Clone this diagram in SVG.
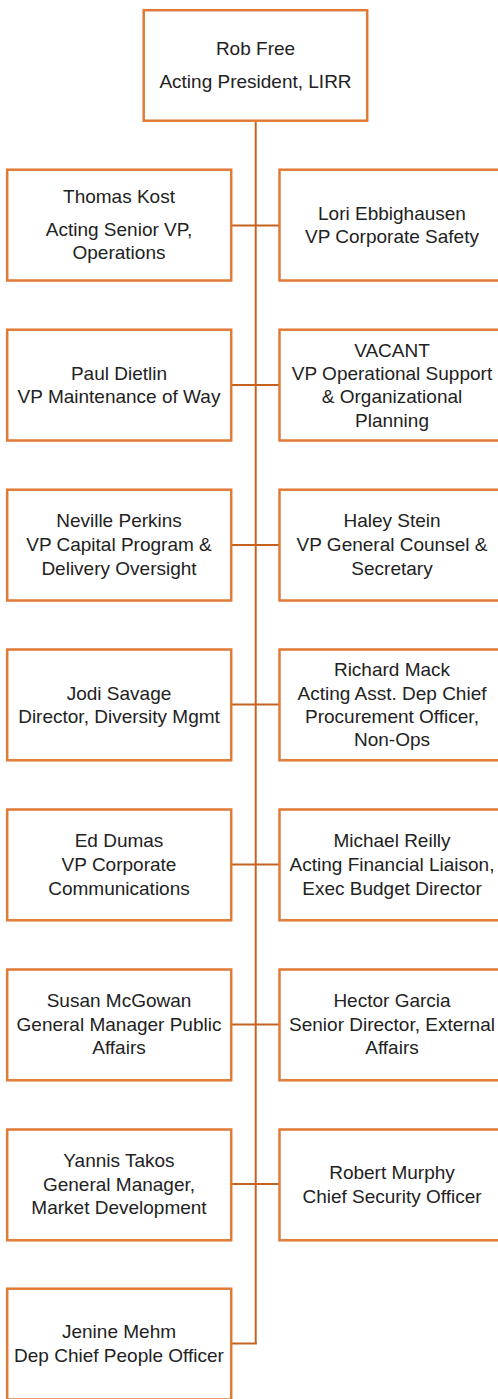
<svg xmlns="http://www.w3.org/2000/svg" width="498" height="1399" viewBox="0 0 498 1399">
<style>
.box{fill:#fff;stroke:#E07A36;stroke-width:2.5}
.con{stroke:#C4621F;stroke-width:2;fill:none}
text{font-family:"Liberation Sans",Arial,sans-serif;font-size:19px;fill:#222;text-anchor:middle}
</style>
<rect width="498" height="1399" fill="#fff"/>
<g id="connectors">
<line class="con" x1="255.7" y1="122" x2="255.7" y2="1344"/>
<line class="con" x1="232" y1="225.5" x2="279" y2="225.5"/>
<line class="con" x1="232" y1="385" x2="279" y2="385"/>
<line class="con" x1="232" y1="545" x2="279" y2="545"/>
<line class="con" x1="232" y1="704.5" x2="279" y2="704.5"/>
<line class="con" x1="232" y1="864.5" x2="279" y2="864.5"/>
<line class="con" x1="232" y1="1024.5" x2="279" y2="1024.5"/>
<line class="con" x1="232" y1="1184" x2="279" y2="1184"/>
<line class="con" x1="232" y1="1343.5" x2="256.7" y2="1343.5"/>
</g>
<g id="n-rob">
<rect class="box" x="143.7" y="10.2" width="223.5" height="110.5"/>
<text x="255.5" y="55">Rob Free</text>
<text x="255.5" y="88">Acting President, LIRR</text>
</g>
<g id="n-kost">
<rect class="box" x="7.2" y="169.7" width="224" height="110.8"/>
<text x="119" y="203">Thomas Kost</text>
<text x="119" y="236">Acting Senior VP,</text>
<text x="119" y="259">Operations</text>
</g>
<g id="n-ebbighausen">
<rect class="box" x="279.5" y="169.7" width="224" height="110.8"/>
<text x="392" y="220">Lori Ebbighausen</text>
<text x="392" y="243">VP Corporate Safety</text>
</g>
<g id="n-dietlin">
<rect class="box" x="7.2" y="329.7" width="224" height="110.8"/>
<text x="119" y="379.5">Paul Dietlin</text>
<text x="119" y="403.3">VP Maintenance of Way</text>
</g>
<g id="n-vacant">
<rect class="box" x="279.5" y="329.7" width="224" height="110.8"/>
<text x="392" y="356.7">VACANT</text>
<text x="392" y="380">VP Operational Support</text>
<text x="392" y="403.3">&amp; Organizational</text>
<text x="392" y="426.5">Planning</text>
</g>
<g id="n-perkins">
<rect class="box" x="7.2" y="489.7" width="224" height="110.8"/>
<text x="119" y="527.3">Neville Perkins</text>
<text x="119" y="551.3">VP Capital Program &amp;</text>
<text x="119" y="575.3">Delivery Oversight</text>
</g>
<g id="n-stein">
<rect class="box" x="279.5" y="489.7" width="224" height="110.8"/>
<text x="392" y="527.3">Haley Stein</text>
<text x="392" y="551.3">VP General Counsel &amp;</text>
<text x="392" y="575.3">Secretary</text>
</g>
<g id="n-savage">
<rect class="box" x="7.2" y="649.5" width="224" height="110.8"/>
<text x="119" y="700">Jodi Savage</text>
<text x="119" y="723.3">Director, Diversity Mgmt</text>
</g>
<g id="n-mack">
<rect class="box" x="279.5" y="649.5" width="224" height="110.8"/>
<text x="392" y="676">Richard Mack</text>
<text x="392" y="700">Acting Asst. Dep Chief</text>
<text x="392" y="723.3">Procurement Officer,</text>
<text x="392" y="746.3">Non-Ops</text>
</g>
<g id="n-dumas">
<rect class="box" x="7.2" y="809.5" width="224" height="110.8"/>
<text x="119" y="847.3">Ed Dumas</text>
<text x="119" y="871.3">VP Corporate</text>
<text x="119" y="895">Communications</text>
</g>
<g id="n-reilly">
<rect class="box" x="279.5" y="809.5" width="224" height="110.8"/>
<text x="392" y="847.3">Michael Reilly</text>
<text x="392" y="871.3">Acting Financial Liaison,</text>
<text x="392" y="895">Exec Budget Director</text>
</g>
<g id="n-mcgowan">
<rect class="box" x="7.2" y="969.5" width="224" height="110.8"/>
<text x="119" y="1006.7">Susan McGowan</text>
<text x="119" y="1030.5">General Manager Public</text>
<text x="119" y="1054">Affairs</text>
</g>
<g id="n-garcia">
<rect class="box" x="279.5" y="969.5" width="224" height="110.8"/>
<text x="392" y="1006.7">Hector Garcia</text>
<text x="392" y="1030.5">Senior Director, External</text>
<text x="392" y="1054">Affairs</text>
</g>
<g id="n-takos">
<rect class="box" x="7.2" y="1129.5" width="224" height="110.8"/>
<text x="119" y="1166.7">Yannis Takos</text>
<text x="119" y="1190.5">General Manager,</text>
<text x="119" y="1214">Market Development</text>
</g>
<g id="n-murphy">
<rect class="box" x="279.5" y="1129.5" width="224" height="110.8"/>
<text x="392" y="1179.3">Robert Murphy</text>
<text x="392" y="1203">Chief Security Officer</text>
</g>
<g id="n-mehm">
<rect class="box" x="7.2" y="1288.7" width="224" height="110.8"/>
<text x="119" y="1338.3">Jenine Mehm</text>
<text x="119" y="1361.7">Dep Chief People Officer</text>
</g>
</svg>
